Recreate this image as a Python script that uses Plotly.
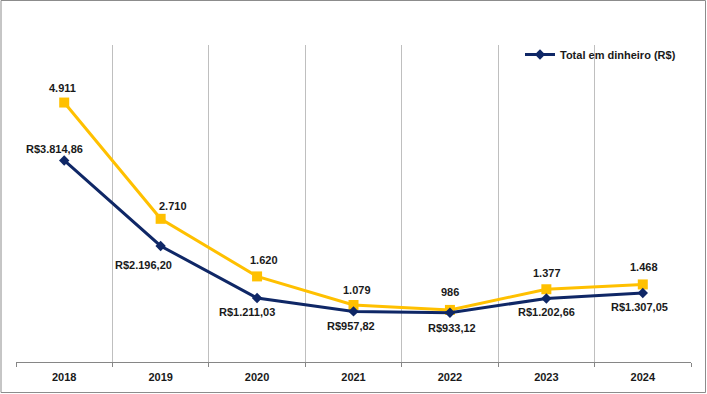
import plotly.graph_objects as go

years = ["2018", "2019", "2020", "2021", "2022", "2023", "2024"]
total_dinheiro = [3814.86, 2196.20, 1211.03, 957.82, 933.12, 1202.66, 1307.05]
quantidade = [4911, 2710, 1620, 1079, 986, 1377, 1468]

# label offsets in pixels (style only)
navy_dx = [-10, -17, -10, -3, 2, 0, -3]
navy_dy = [-11, 19, 14, 15, 15, 14, 14]
gold_dx = [-2, 12, 7, 3, 0, 1, 1]
gold_dy = [-15, -13, -16, -15, -18, -16, -17]

NAVY = "#0F2766"
GOLD = "#FFC000"
TXT = "#1a1a1a"
FONT = "Liberation Sans, Arial, sans-serif"

W, H = 707, 394
ML, MR, MT, MB = 16, 16, 45, 32
PW, PH = W - ML - MR, H - MT - MB

x = list(range(len(years)))


def fmt_int(v):
    return f"{v:,.0f}".replace(",", ".")


def fmt_brl(v):
    s = f"{v:,.2f}".replace(",", "X").replace(".", ",").replace("X", ".")
    return "R$" + s


fig = go.Figure()
fig.add_trace(go.Scatter(
    x=x, y=quantidade, mode="lines+markers", name="Quantidade",
    line=dict(color=GOLD, width=3), marker=dict(symbol="square", size=10, color=GOLD),
    showlegend=False, hoverinfo="skip"))
fig.add_trace(go.Scatter(
    x=x, y=total_dinheiro, mode="lines+markers", name="Total em dinheiro (R$)",
    line=dict(color=NAVY, width=3), marker=dict(symbol="diamond", size=8, color=NAVY),
    hoverinfo="skip"))

annos = []
for i, v in enumerate(quantidade):
    annos.append(dict(x=x[i], y=v, xref="x", yref="y", text=fmt_int(v), showarrow=False,
                      xshift=gold_dx[i], yshift=-gold_dy[i],
                      font=dict(family=FONT, size=11, color=TXT, weight="bold")))
for i, v in enumerate(total_dinheiro):
    annos.append(dict(x=x[i], y=v, xref="x", yref="y", text=fmt_brl(v), showarrow=False,
                      xshift=navy_dx[i], yshift=-navy_dy[i],
                      font=dict(family=FONT, size=11, color=TXT, weight="bold")))

shapes = [
    # white patch behind legend over gridlines
    dict(type="rect", xref="paper", yref="paper", layer="between",
         x0=(494 - ML) / PW, x1=(696 - ML) / PW, y0=(H - MB - 62) / PH, y1=1.0,
         line=dict(width=0), fillcolor="white"),
    # outer border
    dict(type="rect", xref="paper", yref="paper", layer="above",
         x0=(1 - ML) / PW, x1=(705.5 - ML) / PW,
         y0=(H - MB - 392.5) / PH, y1=(H - MB - 0.5) / PH,
         line=dict(color="#8c8c8c", width=1), fillcolor="rgba(0,0,0,0)"),
]

fig.update_layout(
    width=W, height=H,
    margin=dict(l=ML, r=MR, t=MT, b=MB, pad=0),
    paper_bgcolor="white", plot_bgcolor="white",
    font=dict(family=FONT, size=11, color=TXT),
    showlegend=True,
    legend=dict(x=(520 - ML) / PW, y=(H - MB - 40) / PH, xanchor="left", yanchor="top",
                bgcolor="rgba(0,0,0,0)", borderwidth=0,
                font=dict(family=FONT, size=11, color=TXT, weight="bold")),
    annotations=annos,
    shapes=shapes,
    xaxis=dict(
        range=[-0.5, len(years) - 0.5], tickmode="array", tickvals=x, ticktext=years,
        showgrid=False, zeroline=False, showline=True, linecolor="#868686", linewidth=1,
        ticks="", ticklabelstandoff=5,
        tickfont=dict(family=FONT, size=11, color=TXT, weight="bold"),
        minor=dict(tickmode="array", tickvals=[i - 0.5 for i in range(len(years) + 1)],
                   showgrid=True, gridcolor="#BFBFBF", gridwidth=1,
                   ticks="outside", ticklen=4, tickcolor="#868686"),
        fixedrange=True,
    ),
    yaxis=dict(range=[0, 6000], showgrid=False, zeroline=False, showline=False,
               showticklabels=False, ticks="", fixedrange=True),
)

fig.write_html(
    "out.html",
    config={"displayModeBar": False},
    post_script="document.body.style.margin='0px';document.body.style.overflow='hidden';",
)
